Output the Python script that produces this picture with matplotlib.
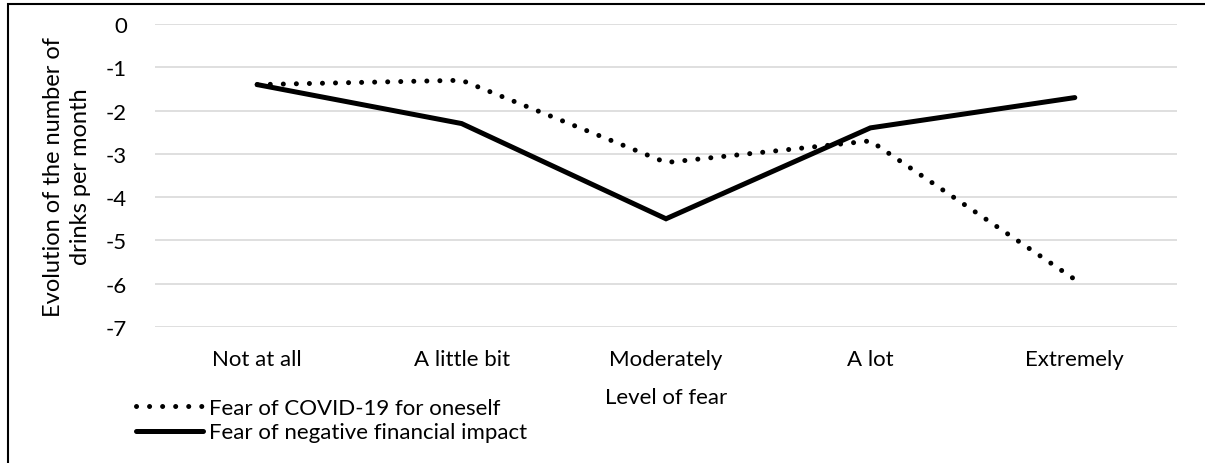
import matplotlib
matplotlib.use("Agg")
import matplotlib.pyplot as plt
from matplotlib.patches import Rectangle

# data
levels = ["Not at all", "A little bit", "Moderately", "A lot", "Extremely"]
fear_covid = [-1.4, -1.3, -3.2, -2.7, -5.9]
fear_financial = [-1.4, -2.3, -4.5, -2.4, -1.7]
yticks = [0, -1, -2, -3, -4, -5, -6, -7]

plt.rcParams['font.family'] = ['Lato', 'DejaVu Sans']
fs = 16

fig = plt.figure(figsize=(12.05, 4.64), dpi=100)
ax = fig.add_axes([155 / 1205, 1 - 328 / 464, (1177 - 155) / 1205, (328 - 25) / 464])

x = list(range(len(levels)))
l1, = ax.plot(x, fear_covid, color="black", lw=3.6, linestyle=(0, (0.01, 2.6)),
              dash_capstyle="round", solid_capstyle="round", label="Fear of COVID-19 for oneself")
l2, = ax.plot(x, fear_financial, color="black", lw=3.6, solid_capstyle="round",
              solid_joinstyle="miter", label="Fear of negative financial impact")

ax.set_xlim(-0.5, len(levels) - 0.5)
ax.set_ylim(-7, 0)
ax.set_yticks(yticks)
ax.set_yticklabels([str(t) for t in yticks], fontsize=fs)
ax.set_xticks(x)
ax.set_xticklabels(levels, fontsize=fs)
ax.tick_params(axis="y", length=0, pad=20)
ax.tick_params(axis="x", length=0, pad=16)
ax.yaxis.grid(True, color="#d9d9d9", lw=1.2)
ax.set_axisbelow(True)
for s in ax.spines.values():
    s.set_visible(False)

fig.text(67 / 1205, 1 - 177 / 464, "Evolution of the number of\ndrinks per month", fontsize=17,
         rotation=90, ha="center", va="center", multialignment="center", linespacing=1.35)
fig.text(666 / 1205, 1 - 398 / 464, "Level of fear", fontsize=fs, ha="center", va="center")

fig.legend(handles=[l1, l2], loc="upper left", bbox_to_anchor=(136 / 1205, 1 - 399 / 464),
           frameon=False, fontsize=fs, handlelength=3.0, handletextpad=0.3,
           labelspacing=0.2, borderaxespad=0, borderpad=0)

# outer frame like the original figure box
fig.patches.append(Rectangle((8 / 1205, -0.05), 1.2, 1 - 5 / 464 + 0.05, transform=fig.transFigure,
                             fill=False, edgecolor="black", lw=1.5))

fig.savefig("out.png", dpi=100)
